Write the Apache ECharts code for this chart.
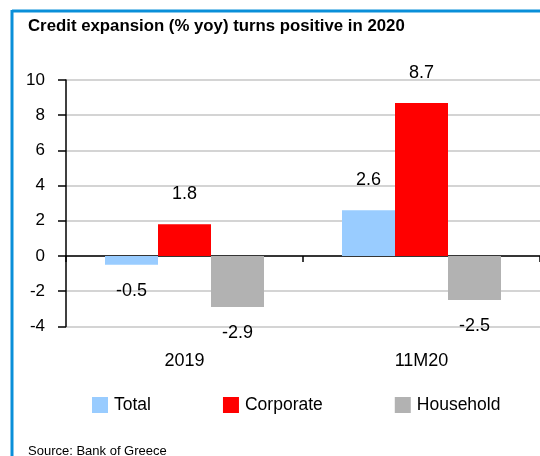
<!DOCTYPE html>
<html>
<head>
<meta charset="utf-8">
<style>
  html, body { margin: 0; padding: 0; background: #fff; }
  #chart { width: 540px; height: 456px; }
</style>
<script src="https://cdn.jsdelivr.net/npm/echarts@6/dist/echarts.min.js"></script>
</head>
<body>
<div id="chart"></div>
<script>
// Credit growth by segment, % year on year
const categories = ['2019', '11M20'];
const totalValues = [-0.5, 2.6];
const corporateValues = [1.8, 8.7];
const householdValues = [-2.9, -2.5];
const seriesNames = ['Total', 'Corporate', 'Household'];
const seriesColors = ['#99ccff', '#ff0000', '#b2b2b2'];

const FONT = "'Liberation Sans', Arial, sans-serif";
const chart = echarts.init(document.getElementById('chart'), null, { renderer: 'canvas' });

function barSeries(name, data, color) {
  return {
    name: name,
    type: 'bar',
    data: data.map(v => ({
      value: v,
      label: { position: v >= 0 ? 'top' : 'bottom', distance: v >= 0 ? 21 : 17 }
    })),
    barWidth: 53,
    barGap: '0%',
    itemStyle: { color: color },
    label: {
      show: true,
      color: '#000',
      fontFamily: FONT,
      fontSize: 18,
      formatter: p => p.value.toFixed(1)
    }
  };
}

chart.setOption({
  animation: false,
  textStyle: { fontFamily: FONT },
  graphic: [
    { type: 'line', shape: { x1: 12, y1: 11, x2: 540, y2: 11 }, style: { stroke: '#0a8fd9', lineWidth: 3 } },
    { type: 'line', shape: { x1: 12, y1: 10, x2: 12, y2: 456 }, style: { stroke: '#0a8fd9', lineWidth: 3 } },
    { type: 'text', left: 28, top: 18, style: { text: 'Credit expansion (% yoy) turns positive in 2020', font: "bold 16.8px " + FONT, fill: '#000' } },
    { type: 'text', left: 28, top: 445, style: { text: 'Source: Bank of Greece', font: "13px " + FONT, fill: '#000' } }
  ],
  legend: {
    left: 92,
    top: 396,
    padding: 0,
    itemWidth: 16,
    itemHeight: 16,
    itemGap: 72,
    icon: 'rect',
    data: seriesNames,
    textStyle: { fontFamily: FONT, fontSize: 17.5, color: '#000', padding: [0, 0, 0, 1] }
  },
  grid: { left: 66, top: 80, width: 478, height: 246.4, containLabel: false },
  xAxis: {
    type: 'category',
    data: categories,
    axisLine: { onZero: true, lineStyle: { color: '#000', width: 1.5 } },
    axisTick: { show: true, length: 6, lineStyle: { color: '#000', width: 1.5 } },
    axisLabel: { margin: 26, color: '#000', fontFamily: FONT, fontSize: 18 },
    splitLine: { show: false }
  },
  yAxis: {
    type: 'value',
    min: -4,
    max: 10,
    interval: 2,
    axisLine: { show: true, lineStyle: { color: '#000', width: 1.5 } },
    axisTick: { show: true, length: 8, lineStyle: { color: '#000', width: 1.5 } },
    axisLabel: { margin: 21, color: '#000', fontFamily: FONT, fontSize: 17 },
    splitLine: { show: true, lineStyle: { color: '#d4d4d4', width: 2 } }
  },
  series: [
    barSeries(seriesNames[0], totalValues, seriesColors[0]),
    barSeries(seriesNames[1], corporateValues, seriesColors[1]),
    barSeries(seriesNames[2], householdValues, seriesColors[2])
  ]
});
</script>
</body>
</html>
